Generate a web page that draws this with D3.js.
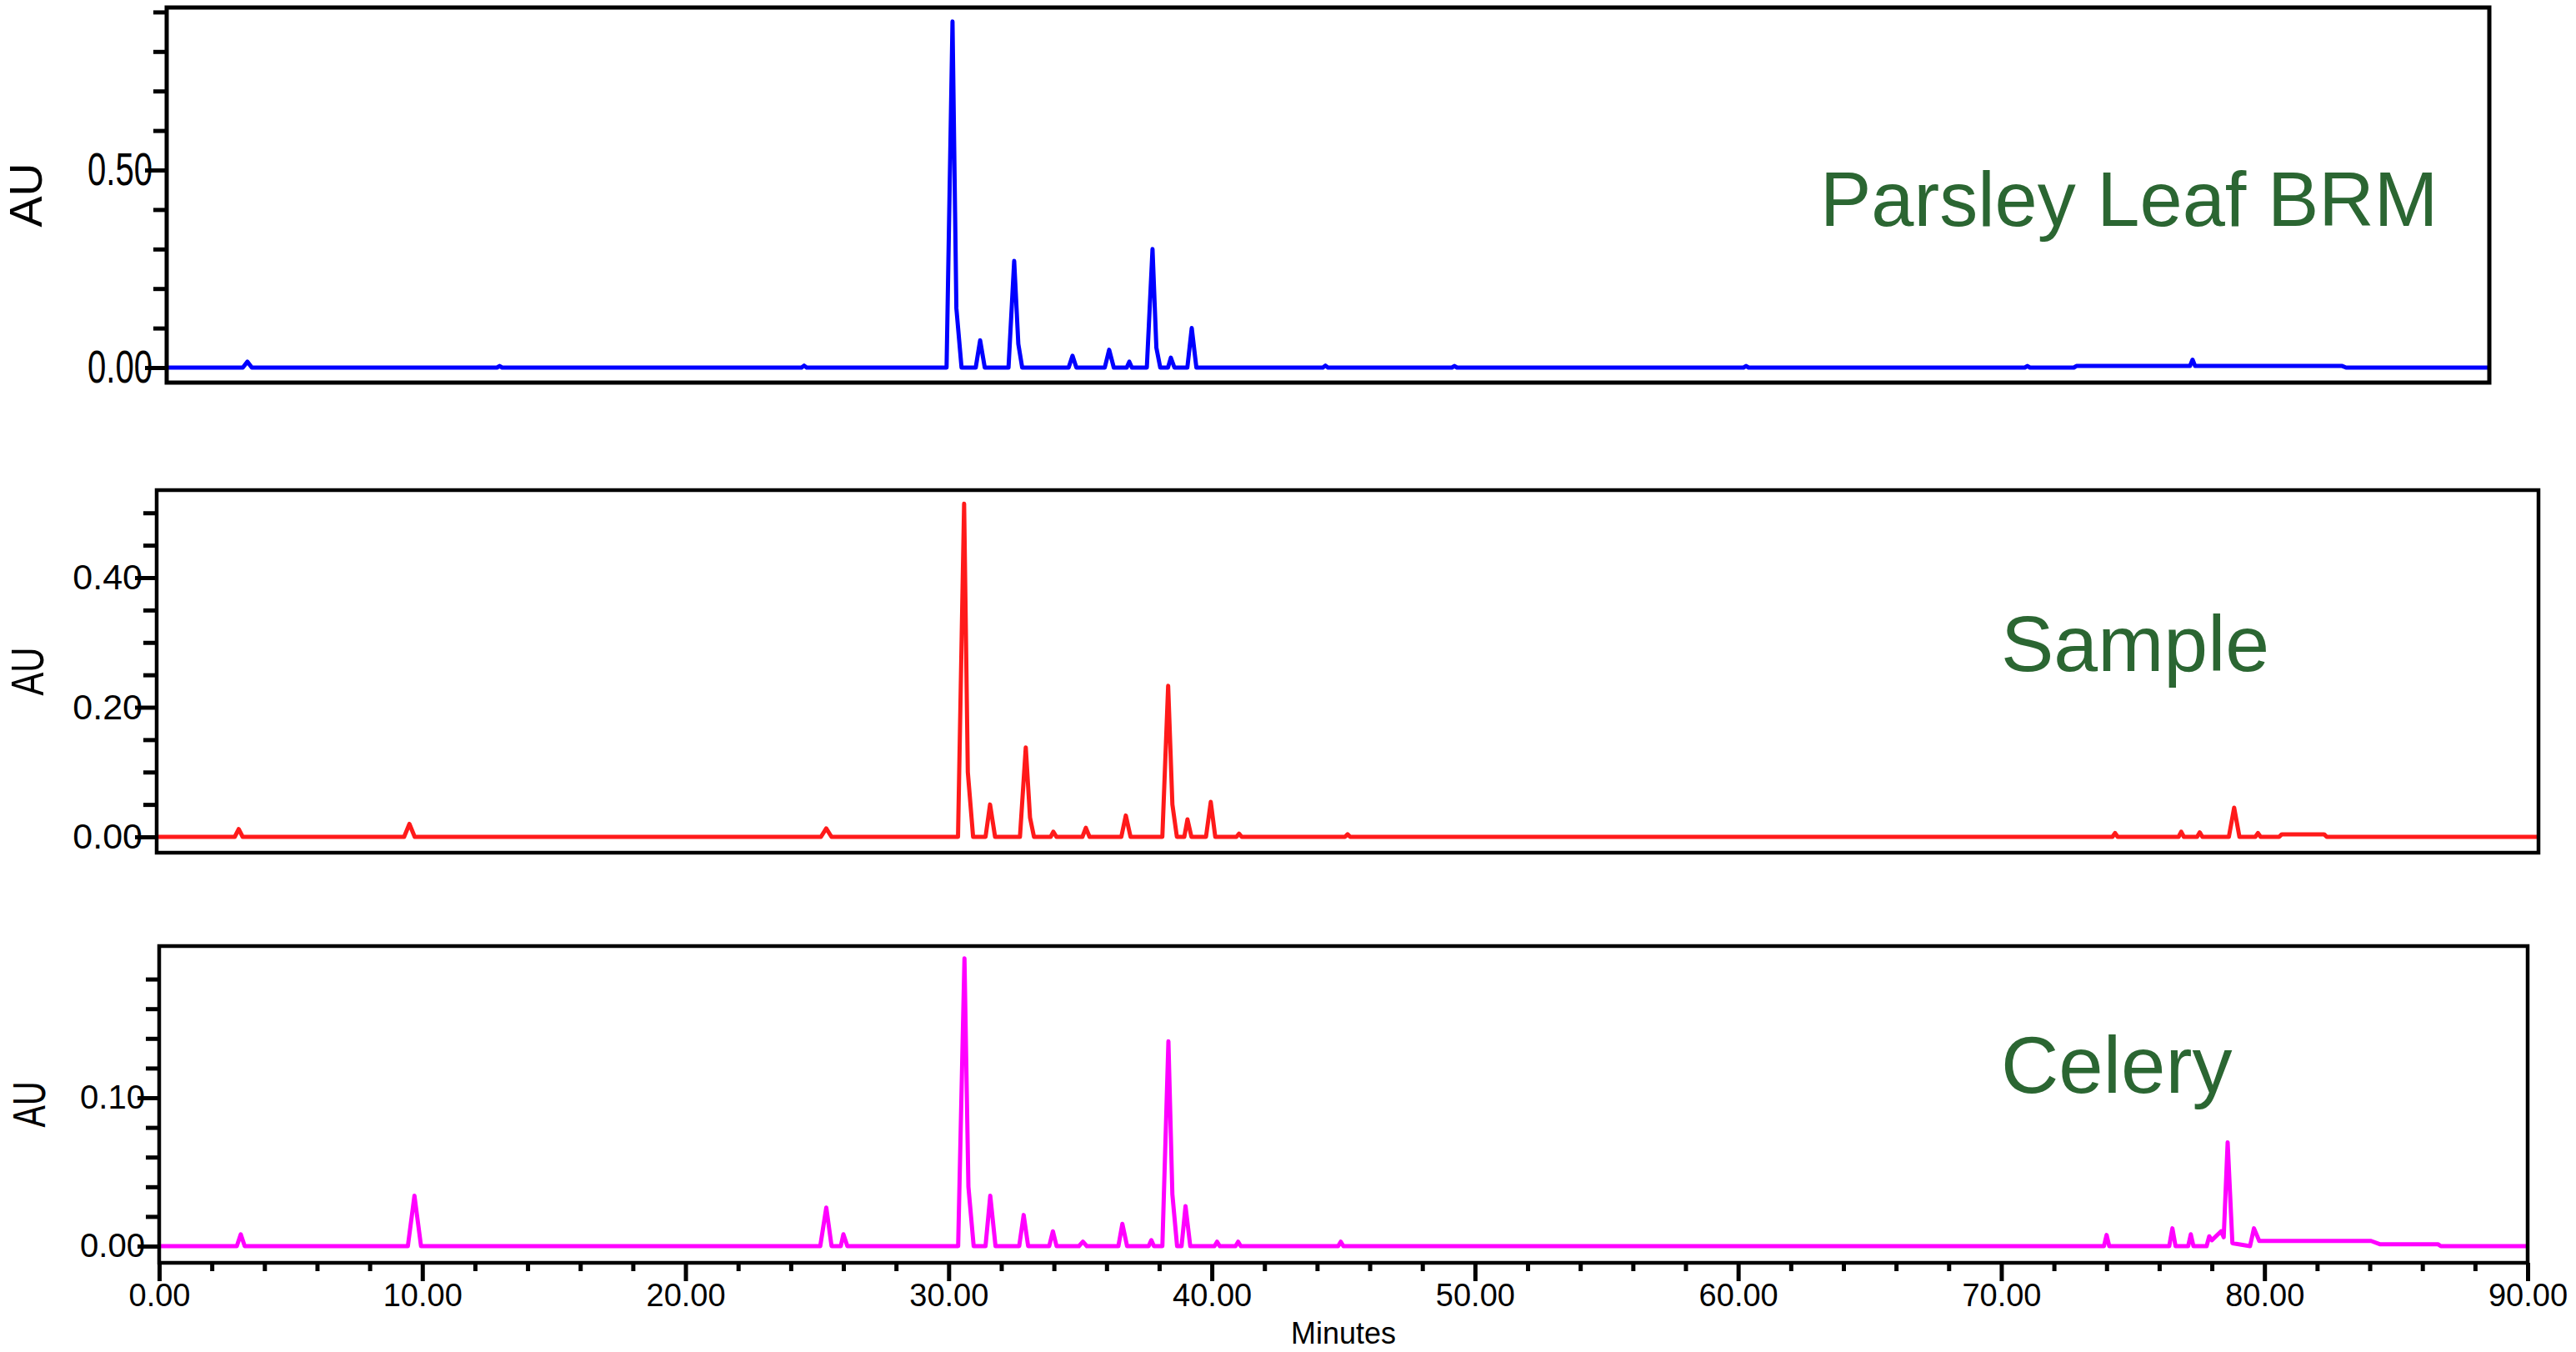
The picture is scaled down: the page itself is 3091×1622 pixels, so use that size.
<!DOCTYPE html>
<html>
<head>
<meta charset="utf-8">
<script src="https://cdn.jsdelivr.net/npm/d3@7"></script>
<style>
body{margin:0;background:#fff;overflow:hidden}
text{font-family:"Liberation Sans",Arial,sans-serif}
</style>
</head>
<body>
<svg class="graph"></svg>
<script>
// chromatogram traces, [minutes, AU]
let parsleyTrace=[[0,0],[2.95,0],[3.13,0.015],[3.3,0],[12.8,0],[12.9,0.004],[13.0,0],[24.6,0],[24.7,0.005],[24.8,0],
 [30.22,0],[30.45,0.876],[30.6,0.15],[30.8,0],[31.35,0],[31.52,0.069],[31.7,0],[32.62,0],[32.84,0.27],[33.0,0.06],[33.15,0],
 [34.95,0],[35.1,0.03],[35.25,0],[36.35,0],[36.52,0.045],[36.7,0],[37.2,0],[37.3,0.015],[37.4,0],
 [37.98,0],[38.2,0.30],[38.35,0.05],[38.5,0],[38.8,0],[38.91,0.025],[39.05,0],[39.55,0],[39.72,0.10],[39.9,0],
 [44.8,0],[44.9,0.005],[45.0,0],[49.8,0],[49.9,0.004],[50.0,0],[61.1,0],[61.2,0.004],[61.3,0],[72.0,0],[72.1,0.004],[72.2,0],
 [73.9,0],[74.0,0.004],[78.4,0.004],[78.5,0.02],[78.6,0.004],[84.3,0.004],[84.45,0],[90,0]]

let sampleTrace=[[0,0],[2.95,0],[3.1,0.012],[3.25,0],[9.35,0],[9.55,0.02],[9.75,0],[25.1,0],[25.3,0.013],[25.5,0],
 [30.28,0],[30.51,0.514],[30.65,0.1],[30.85,0],[31.32,0],[31.49,0.05],[31.68,0],[32.62,0],[32.84,0.138],[33.0,0.03],[33.15,0],
 [33.78,0],[33.88,0.008],[34.0,0],[34.98,0],[35.11,0.014],[35.25,0],[36.45,0],[36.62,0.033],[36.8,0],
 [38.0,0],[38.22,0.233],[38.38,0.05],[38.55,0],[38.83,0],[38.95,0.027],[39.1,0],[39.65,0],[39.83,0.054],[40.0,0],
 [40.8,0],[40.9,0.005],[41.0,0],[44.9,0],[45.0,0.004],[45.1,0],[73.9,0],[74.0,0.006],[74.1,0],[76.4,0],[76.5,0.008],[76.6,0],
 [77.1,0],[77.2,0.007],[77.3,0],[78.3,0],[78.5,0.045],[78.7,0],[79.3,0],[79.4,0.006],[79.5,0],[80.2,0],[80.3,0.004],[81.9,0.004],[82.0,0],[90,0]]

let celeryTrace=[[0,0],[2.95,0],[3.1,0.008],[3.25,0],[9.45,0],[9.7,0.034],[9.95,0],[25.12,0],[25.35,0.026],[25.55,0],[25.9,0],[26.0,0.008],[26.15,0],
 [30.36,0],[30.6,0.194],[30.75,0.04],[30.95,0],[31.4,0],[31.58,0.034],[31.78,0],[32.68,0],[32.85,0.021],[33.02,0],
 [33.82,0],[33.96,0.01],[34.1,0],[34.95,0],[35.1,0.003],[35.25,0],[36.45,0],[36.6,0.015],[36.78,0],[37.6,0],[37.7,0.004],[37.8,0],
 [38.12,0],[38.35,0.138],[38.5,0.035],[38.68,0],[38.85,0],[39.0,0.027],[39.18,0],[40.1,0],[40.2,0.003],[40.3,0],[40.9,0],[41.0,0.003],[41.1,0],
 [44.8,0],[44.9,0.003],[45.0,0],[73.9,0],[74.0,0.0075],[74.1,0],[76.38,0],[76.5,0.012],[76.62,0],[77.1,0],[77.2,0.008],[77.3,0],
 [77.8,0],[77.9,0.0066],[78.0,0.004],[78.35,0.01],[78.45,0.006],[78.6,0.07],[78.78,0.002],[79.45,0],[79.6,0.012],[79.8,0.0035],
 [84.05,0.0035],[84.4,0.0012],[86.6,0.0012],[86.7,0],[90,0]]

let panelNames=['Parsley Leaf BRM','Sample','Celery']
let traceColors=['#0000ff','#ff1a1a','#ff00ff']

// AU ticks per panel and which of them carry a label
let topTicks=[0,0.1,0.2,0.3,0.4,0.5,0.6,0.7,0.8,0.9]
let topLabels=[0,0.5]
let midTicks=[0,0.05,0.1,0.15,0.2,0.25,0.3,0.35,0.4,0.45,0.5]
let midLabels=[0,0.2,0.4]
let botTicks=[0,0.02,0.04,0.06,0.08,0.1,0.12,0.14,0.16,0.18]
let botLabels=[0,0.1]
let timeMajor=[0,10,20,30,40,50,60,70,80,90]
let timeMinor=[0,2,4,6,8,12,14,16,18,22,24,26,28,32,34,36,38,42,44,46,48,52,54,56,58,62,64,66,68,72,74,76,78,82,84,86,88]

let width=3091, height=1622
let svg=d3.select('.graph').attr('width',width).attr('height',height)
let fmt=d3.format('.2f')

// layout of each pasted panel (pixels)
let panels=[
  {trace:parsleyTrace,ticks:topTicks,labels:topLabels,left:200,right:2987,top:9,bottom:459,zeroY:441,refVal:0.5,refY:204,
   fs:56,labelLen:78,border:5,auX:30,auLen:77,titleX:2184,titleY:271,titleFs:92},
  {trace:sampleTrace,ticks:midTicks,labels:midLabels,left:188,right:3046,top:588,bottom:1023,zeroY:1004,refVal:0.4,refY:693,
   fs:43,labelLen:null,border:4.5,auX:32,auLen:58,titleX:2401,titleY:805,titleFs:95},
  {trace:celeryTrace,ticks:botTicks,labels:botLabels,left:191,right:3033,top:1135,bottom:1515,zeroY:1495,refVal:0.1,refY:1317,
   fs:40,labelLen:78,border:4.5,auX:34,auLen:55,titleX:2401,titleY:1311,titleFs:96}
]

panels.forEach((p,i)=>{
  let xscale=d3.scaleLinear().domain([0,90]).range([p.left,p.right])
  let yscale=d3.scaleLinear().domain([0,p.refVal]).range([p.zeroY,p.refY])

  svg.append('clipPath').attr('id','clip'+i)
     .append('rect').attr('x',p.left).attr('y',p.top).attr('width',p.right-p.left).attr('height',p.bottom-p.top)

  let line=d3.line().x(d=>xscale(d[0])).y(d=>yscale(d[1]))
  svg.append('path')
     .datum(p.trace)
     .attr('d',line)
     .attr('clip-path',`url(#clip${i})`)
     .attr('fill','none')
     .attr('stroke',traceColors[i])
     .attr('stroke-width',5)
     .attr('stroke-linejoin','round')

  // y axis
  let yaxis=svg.append('g').attr('transform',`translate(${p.left},0)`)
     .call(d3.axisLeft(yscale).tickValues(p.ticks).tickSize(16).tickPadding(1)
        .tickFormat(d=>p.labels.includes(d)?fmt(d):''))
  yaxis.select('.domain').remove()
  yaxis.selectAll('.tick line').attr('stroke','#000').attr('stroke-width',5)
       .attr('x2',d=>p.labels.includes(d)?-26:-16)
  let ylab=yaxis.selectAll('.tick text').attr('fill','#000').style('font-size',p.fs+'px')
  if(p.labelLen) ylab.filter(d=>p.labels.includes(d)).attr('textLength',p.labelLen).attr('lengthAdjust','spacingAndGlyphs')

  // frame
  svg.append('rect')
     .attr('x',p.left).attr('y',p.top)
     .attr('width',p.right-p.left).attr('height',p.bottom-p.top)
     .attr('fill','none').attr('stroke','#000').attr('stroke-width',p.border)

  svg.append('text')
     .attr('transform',`translate(${p.auX},${(p.top+p.bottom)/2}) rotate(-90)`)
     .attr('text-anchor','middle').attr('dominant-baseline','central')
     .attr('textLength',p.auLen).attr('lengthAdjust','spacingAndGlyphs')
     .style('font-size','56px').text('AU')

  svg.append('text')
     .attr('x',p.titleX).attr('y',p.titleY)
     .attr('fill','#2b6632')
     .style('font-size',p.titleFs+'px')
     .text(panelNames[i])

  if(i==2){
    let minor=svg.append('g').attr('transform',`translate(0,${p.bottom})`)
       .call(d3.axisBottom(xscale).tickValues(timeMinor).tickSize(10).tickFormat(''))
    minor.select('.domain').remove()
    minor.selectAll('.tick line').attr('stroke','#000').attr('stroke-width',5)

    let major=svg.append('g').attr('transform',`translate(0,${p.bottom})`)
       .call(d3.axisBottom(xscale).tickValues(timeMajor).tickSize(22).tickPadding(3).tickFormat(fmt))
    major.select('.domain').remove()
    major.selectAll('.tick line').attr('stroke','#000').attr('stroke-width',5)
    major.selectAll('.tick text').attr('fill','#000').style('font-size','38px')

    svg.append('text')
       .attr('x',(p.left+p.right)/2).attr('y',1612)
       .attr('text-anchor','middle')
       .style('font-size','36px')
       .text('Minutes')
  }
})
</script>
</body>
</html>
